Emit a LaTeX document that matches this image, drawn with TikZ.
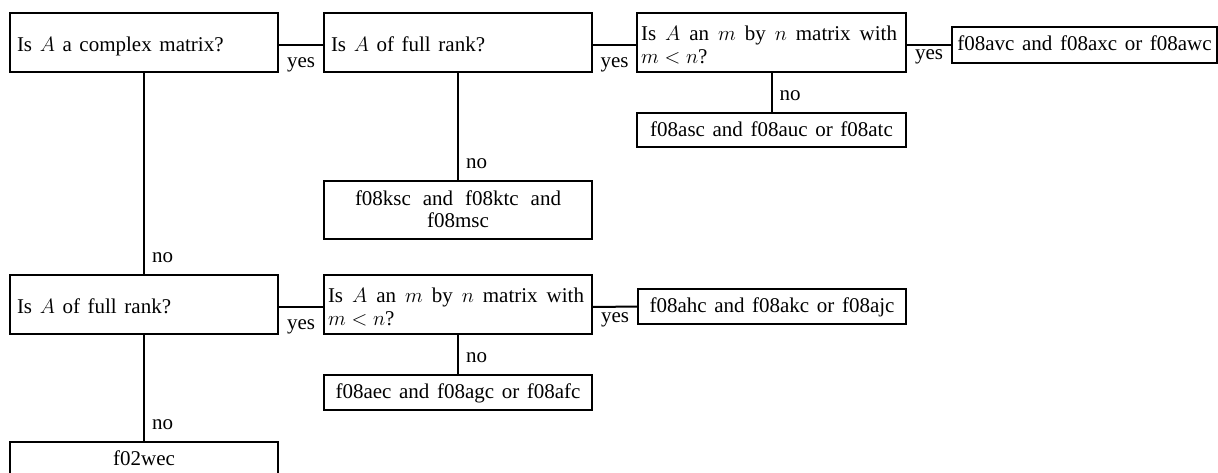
\documentclass[tikz,border=0pt]{standalone}
\usepackage{fontspec}
\setmainfont{Liberation Serif}
\usetikzlibrary{calc}
\newcommand\fsz{\fontsize{21}{23}\selectfont\spaceskip=7.6pt plus 10pt minus 3pt\relax}
\tikzset{
  box/.style={draw, line width=2pt, rectangle, inner sep=0pt, outer sep=0pt, anchor=north west},
  txt/.style={inner sep=0pt, outer sep=0pt, font=\fsz},
  lbl/.style={inner sep=0pt, outer sep=0pt, font=\fsz},
  conn/.style={line width=2pt},
}
\begin{document}
\begin{tikzpicture}[x=1pt,y=-1pt]
\fill[white] (0,0) rectangle (1218,472);
\useasboundingbox (0,0) rectangle (1218,472);
% boxes
\node[box, minimum width=268pt, minimum height=59pt] (b1) at (10,13) {};
\node[box, minimum width=268pt, minimum height=59pt] (b2) at (324,13) {};
\node[box, minimum width=269pt, minimum height=59pt] (b3) at (637,13) {};
\node[box, minimum width=265pt, minimum height=36pt] (b4) at (952,27) {};
\node[box, minimum width=269pt, minimum height=34pt] (b3n) at (637,113) {};
\node[box, minimum width=268pt, minimum height=58pt] (b2n) at (324,181) {};
\node[box, minimum width=268pt, minimum height=59pt] (b5) at (10,275) {};
\node[box, minimum width=268pt, minimum height=59pt] (b6) at (324,275) {};
\node[box, minimum width=268pt, minimum height=35pt] (b7) at (638,289) {};
\node[box, minimum width=268pt, minimum height=35pt] (b6n) at (324,375) {};
\node[box, minimum width=268pt, minimum height=35pt] (b8) at (10,442) {};
% texts
\node[txt, anchor=base west] (t1) at ($(b1.north west)+(7,38)$) {Is $A$ a complex matrix?};
\node[txt, anchor=base west] (t2) at ($(b2.north west)+(7,38)$) {Is $A$ of full rank?};
\node[txt, anchor=base west] (t3) at ($(b3.north west)+(4,27)$) {\parbox[t]{263pt}{\fsz\makebox[256pt][s]{Is $A$ an $m$ by $n$ matrix with}\\$m<n$?}};
\node[txt, anchor=base] (t4) at ($(b4.north)+(0,23)$) {f08avc and f08axc or f08awc};
\node[txt, anchor=base] (t3n) at ($(b3n.north)+(0,23)$) {f08asc and f08auc or f08atc};
\node[txt, anchor=base] (t2n) at ($(b2n.north)+(0,24)$) {\parbox[t]{260pt}{\fontsize{21}{22}\selectfont\spaceskip=7.6pt plus 10pt minus 3pt\relax\centering\makebox[206pt][s]{f08ksc and f08ktc and}\\f08msc}};
\node[txt, anchor=base west] (t5) at ($(b5.north west)+(7,38)$) {Is $A$ of full rank?};
\node[txt, anchor=base west] (t6) at ($(b6.north west)+(4,27)$) {\parbox[t]{263pt}{\fsz\makebox[256pt][s]{Is $A$ an $m$ by $n$ matrix with}\\$m<n$?}};
\node[txt, anchor=base] (t7) at ($(b7.north)+(0,23)$) {f08ahc and f08akc or f08ajc};
\node[txt, anchor=base] (t6n) at ($(b6n.north)+(0,23)$) {f08aec and f08agc or f08afc};
\node[txt, anchor=base] (t8) at ($(b8.north)+(0,23)$) {f02wec};
% connectors
\draw[conn] ([yshift=-32pt]b1.north east) -- ([yshift=-32pt]b2.north west);
\draw[conn] ([yshift=-32pt]b2.north east) -- ([yshift=-32pt]b3.north west);
\draw[conn] ([yshift=-32pt]b3.north east) -- (b4.west);
\draw[conn] (b3.south) -- (b3n.north);
\draw[conn] (b2.south) -- (b2n.north);
\draw[conn] (b1.south) -- (b5.north);
\draw[conn] ([yshift=-32pt]b5.north east) -- ([yshift=-32pt]b6.north west);
\draw[conn] ([yshift=-32pt]b6.north east) -- (b7.west);
\draw[conn] (b6.south) -- (b6n.north);
\draw[conn] (b5.south) -- (b8.north);
% labels
\path ([yshift=5pt]b1.east |- b2.south) -- ([yshift=5pt]b2.south west) node[lbl, midway, anchor=base] (y1) {yes};
\path ([yshift=5pt]b2.east |- b3.south) -- ([yshift=5pt]b3.south west) node[lbl, midway, anchor=base] (y2) {yes};
\path ([yshift=4pt]b3.east |- b4.south) -- ([yshift=4pt]b4.south west) node[lbl, midway, anchor=base] (y3) {yes};
\path ([yshift=5pt]b5.east |- b6.south) -- ([yshift=5pt]b6.south west) node[lbl, midway, anchor=base] (y4) {yes};
\path ([yshift=1.5pt]b6.east |- b7.south) -- ([yshift=1.5pt]b7.south west) node[lbl, midway, anchor=base] (y5) {yes};
\node[lbl, anchor=base west] (n1) at ($(b3n.north)+(8,-13)$) {no};
\node[lbl, anchor=base west] (n2) at ($(b2n.north)+(8,-13)$) {no};
\node[lbl, anchor=base west] (n3) at ($(b5.north)+(8,-13)$) {no};
\node[lbl, anchor=base west] (n4) at ($(b6n.north)+(8,-13)$) {no};
\node[lbl, anchor=base west] (n5) at ($(b8.north)+(8,-13)$) {no};
\end{tikzpicture}
\end{document}
